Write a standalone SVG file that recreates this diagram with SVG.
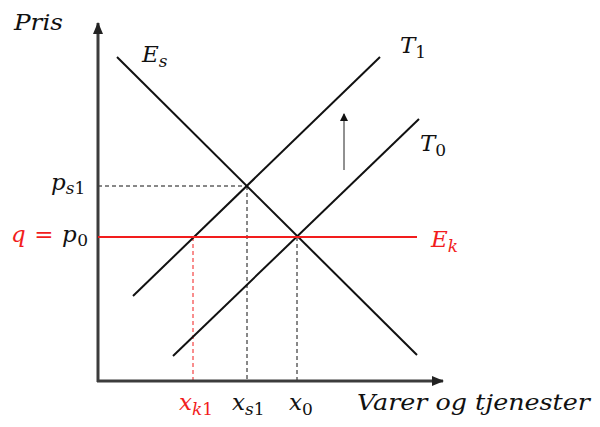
<svg xmlns="http://www.w3.org/2000/svg" width="600" height="427" viewBox="0 0 600 427">
<style>
.lbl{font-family:"DejaVu Serif","Liberation Serif",serif;font-style:italic;font-size:23px;fill:#111}
.sub{font-size:17px}
.up{font-style:normal}
.red{fill:#f21d1d}
.curve{stroke:#111;stroke-width:2;fill:none}
.axis{stroke:#3c3c3c;stroke-width:3;fill:none}
.dash{stroke:#111;stroke-width:1;stroke-dasharray:4,3;fill:none}
</style>
<defs>
<marker id="ah" markerWidth="8" markerHeight="8" refX="7" refY="4" orient="auto" markerUnits="userSpaceOnUse">
<path d="M0,0 L8,4 L0,8 Z" fill="#111"/>
</marker>
<marker id="axh" markerWidth="12" markerHeight="12" refX="11" refY="6" orient="auto" markerUnits="userSpaceOnUse">
<path d="M0,1 L12,6 L0,11 Z" fill="#222"/>
</marker>
</defs>
<rect width="600" height="427" fill="#fff"/>
<g id="connectors">
<line class="dash" x1="98" y1="186" x2="247" y2="186"/>
<line class="dash" x1="247" y1="186" x2="247" y2="381"/>
<line class="dash" x1="297" y1="237" x2="297" y2="381"/>
<line x1="193" y1="237" x2="193" y2="381" stroke="#f21d1d" stroke-width="1" stroke-dasharray="4,3"/>
<line x1="344" y1="170" x2="344" y2="114" stroke="#222" stroke-width="1" marker-end="url(#ah)"/>
</g>
<g id="axes">
<line class="axis" x1="98" y1="382" x2="98" y2="23" marker-end="url(#axh)"/>
<line class="axis" x1="97" y1="381" x2="443" y2="381" marker-end="url(#axh)"/>
</g>
<g id="Es">
<line class="curve" x1="117" y1="57" x2="417" y2="355"/>
<text class="lbl" x="142" y="62">E<tspan class="sub" dy="5">s</tspan></text>
</g>
<g id="T1">
<line class="curve" x1="133" y1="296" x2="380" y2="57"/>
<text class="lbl" x="400" y="53">T<tspan class="sub up" dy="5">1</tspan></text>
</g>
<g id="T0">
<line class="curve" x1="173" y1="356" x2="419" y2="119"/>
<text class="lbl" x="420" y="151">T<tspan class="sub up" dy="5">0</tspan></text>
</g>
<g id="Ek">
<line x1="98" y1="237" x2="417" y2="237" stroke="#f21d1d" stroke-width="2"/>
<text class="lbl red" x="431" y="247">E<tspan class="sub red" dy="5">k</tspan></text>
</g>
<g id="labels">
<text class="lbl" x="14" y="30" textLength="49" lengthAdjust="spacingAndGlyphs">Pris</text>
<text class="lbl" x="51" y="190">p<tspan class="sub" dy="4">s</tspan><tspan class="sub up">1</tspan></text>
<text class="lbl red" x="11" y="242" textLength="77" lengthAdjust="spacing">q <tspan class="up">=</tspan> <tspan fill="#111">p</tspan><tspan class="sub up" dy="4" fill="#111">0</tspan></text>
<text class="lbl red" x="179" y="410">x<tspan class="sub red" dy="5">k</tspan><tspan class="sub up red">1</tspan></text>
<text class="lbl" x="232" y="410">x<tspan class="sub" dy="5">s</tspan><tspan class="sub up">1</tspan></text>
<text class="lbl" x="289" y="410">x<tspan class="sub up" dy="5">0</tspan></text>
<text class="lbl" x="357" y="410" textLength="233" lengthAdjust="spacingAndGlyphs">Varer og tjenester</text>
</g>
</svg>
